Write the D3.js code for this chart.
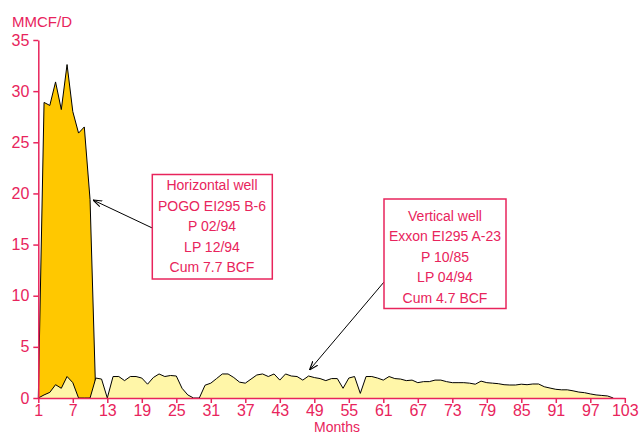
<!DOCTYPE html>
<html><head><meta charset="utf-8">
<script src="https://cdn.jsdelivr.net/npm/d3@7"></script>
<style>
html,body{margin:0;padding:0;background:#fff;}
svg{display:block;font-family:"Liberation Sans",Arial,sans-serif;}
</style></head>
<body><svg id="c" width="640" height="436"></svg>
<script>
// Data
const horizMonths = [1,2,3,4,5,6,7,8,9,10,11];
const horizRate = [0,28.9,28.6,30.9,28.2,32.6,28,25.9,26.5,19.4,0];
const vertMonths = d3.range(1,102);
const vertRate = [0,0.3,0.55,1.3,0.95,2.1,1.5,0,0,0,
  1.95,1.85,0,2.1,2.1,1.7,2.1,2.1,1.95,1.35,
  2.0,2.35,2.1,2.2,2.15,0.95,0.3,0,0,1.25,
  1.45,1.9,2.35,2.35,2.0,1.55,1.45,1.85,2.25,2.35,
  2.1,2.35,1.75,2.35,2.15,2.1,1.75,2.15,2.0,1.9,
  1.7,1.9,1.9,0.95,1.95,2.1,0.45,2.1,2.1,1.95,
  1.75,2.1,1.9,1.85,1.7,1.75,1.5,1.6,1.6,1.75,
  1.75,1.6,1.5,1.5,1.5,1.45,1.35,1.65,1.5,1.45,
  1.4,1.3,1.27,1.27,1.35,1.3,1.37,1.37,1.1,0.97,
  0.85,0.8,0.8,0.7,0.58,0.52,0.4,0.3,0.25,0.2,0];
const xTicks = d3.range(1,104,6);
const yTicks = [0,5,10,15,20,25,30,35];
const horizLabel = ["Horizontal well","POGO EI295 B-6","P 02/94","LP 12/94","Cum 7.7 BCF"];
const vertLabel = ["Vertical well","Exxon EI295 A-23","P 10/85","LP 04/94","Cum 4.7 BCF"];

const PINK = "#e8245c";
const svg = d3.select("#c");
const x = d3.scaleLinear().domain([1,103]).range([38.3,624.8]);
const y = d3.scaleLinear().domain([0,35]).range([398,40]);

svg.append("defs").append("marker").attr("id","ah").attr("viewBox","0 0 10 10")
  .attr("refX",10).attr("refY",5).attr("markerWidth",9).attr("markerHeight",9)
  .attr("markerUnits","userSpaceOnUse").attr("orient","auto")
  .append("path").attr("d","M0,1.5 L10,5 L0,8.5").attr("fill","none").attr("stroke","#000").attr("stroke-width",1.3);

function drawSeries(months, vals, fill){
  const d = months.map((m,i)=>[m, vals[i]]);
  const area = d3.area().x(p=>x(p[0])).y0(y(0)).y1(p=>y(p[1]));
  const line = d3.line().x(p=>x(p[0])).y(p=>y(p[1]));
  svg.append("path").attr("d",area(d)).attr("fill",fill);
  svg.append("path").attr("d",line(d)).attr("fill","none").attr("stroke","#000").attr("stroke-width",1);
}
drawSeries(horizMonths, horizRate, "#ffc800");
drawSeries(vertMonths, vertRate, "#fff6a8");

// Axes
const yAxis = svg.append("g").attr("transform","translate(38.3,0)")
  .call(d3.axisLeft(y).tickValues(yTicks).tickSize(5).tickPadding(4).tickSizeOuter(0));
const xAxis = svg.append("g").attr("transform","translate(0,398)")
  .call(d3.axisBottom(x).tickValues(xTicks).tickSize(5).tickPadding(2).tickSizeOuter(0));
[yAxis,xAxis].forEach(g=>{
  g.selectAll("path,line").attr("stroke",PINK).attr("stroke-width",1.5);
  g.selectAll("text").attr("fill",PINK).style("font-size","16px").style("font-family","'Liberation Sans',Arial,sans-serif");
});

svg.append("text").attr("x",12).attr("y",27).attr("fill",PINK).style("font-size","15px").text("MMCF/D");
svg.append("text").attr("x",337).attr("y",432).attr("text-anchor","middle").attr("fill",PINK).style("font-size","14px").text("Months");

function box(x0,y0,w,h,lines,cx,firstY,arrow){
  svg.append("line").attr("x1",arrow[0]).attr("y1",arrow[1]).attr("x2",arrow[2]).attr("y2",arrow[3])
    .attr("stroke","#000").attr("stroke-width",1).attr("marker-end","url(#ah)");
  svg.append("rect").attr("x",x0).attr("y",y0).attr("width",w).attr("height",h)
    .attr("fill","#fff").attr("stroke",PINK).attr("stroke-width",1.5);
  svg.append("g").selectAll("text").data(lines).join("text")
    .attr("x",cx).attr("y",(d,i)=>firstY+i*20.5).attr("text-anchor","middle")
    .attr("fill",PINK).style("font-size","14px").text(d=>d);
}
box(152.3,174.5,120,104.5,horizLabel,212,190,[152.3,228,93,200]);
box(384,199,122,109.5,vertLabel,445,220.5,[384,282,309.5,370]);
</script></body></html>
